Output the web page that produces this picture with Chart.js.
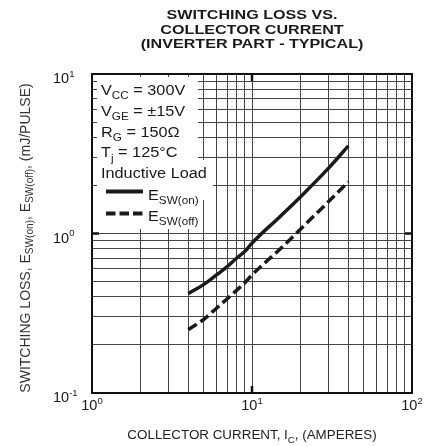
<!DOCTYPE html>
<html>
<head>
<meta charset="utf-8">
<script src="https://cdn.jsdelivr.net/npm/chart.js@4.4.0/dist/chart.umd.min.js"></script>
<style>
  html, body { margin: 0; padding: 0; background: #fff; }
  #wrap { width: 438px; height: 446px; }
</style>
</head>
<body>
<div id="wrap"><canvas id="chart" width="438" height="446"></canvas></div>
<script>
// Collector current (A) and switching energy per pulse (mJ)
const collectorCurrent = [4, 5, 6, 7, 8, 9, 10, 15, 20, 30, 40];
const eswOn  = [0.42, 0.48, 0.55, 0.62, 0.70, 0.77, 0.87, 1.28, 1.69, 2.56, 3.54];
const eswOff = [0.25, 0.29, 0.34, 0.39, 0.44, 0.49, 0.55, 0.80, 1.06, 1.58, 2.11];

// Log grid positions
const xGridValues = [1, 2, 3, 4, 5, 6, 7, 8, 9, 10, 20, 30, 40, 50, 60, 70, 80, 90, 100];
const yGridValues = [0.1, 0.2, 0.3, 0.4, 0.5, 0.6, 0.7, 0.8, 0.9,
                     1, 2, 3, 4, 5, 6, 7, 8, 9, 10];

// Decade tick labels: base 10 with exponent
const xDecades = [1, 10, 100];
const xDecadeExponents = ['0', '1', '2'];
const yDecades = [0.1, 1, 10];
const yDecadeExponents = ['-1', '0', '1'];

// Test-condition block (main text, subscript, trailing text)
const conditionLines = [
  ['V', 'CC', ' = 300V'],
  ['V', 'GE', ' = \u00B115V'],
  ['R', 'G', ' = 150\u03A9'],
  ['T', 'j', ' = 125\u00B0C'],
  ['Inductive Load', '', '']
];
const seriesNames = [['E', 'SW(on)'], ['E', 'SW(off)']];

const titleLines = ['SWITCHING LOSS VS.', 'COLLECTOR CURRENT', '(INVERTER PART - TYPICAL)'];

const FONT = '"Liberation Sans", Arial, Helvetica, sans-serif';
const INK = '#1a1a1a';

// Draw a run of text pieces; mode 0 = normal, 1 = subscript, 2 = superscript
function drawRich(ctx, parts, x, y, size, o) {
  o = o || {};
  const stretch = o.stretch || 1;
  const weight = o.bold ? 'bold ' : '';
  const pieces = parts.filter(p => p[0] !== '').map(p => {
    const mode = p[1] || 0;
    const fs = mode === 0 ? size : size * (mode === 1 ? 0.72 : 0.66);
    const dy = mode === 0 ? 0 : (mode === 1 ? size * 0.28 : -size * 0.42);
    ctx.font = weight + fs + 'px ' + FONT;
    return { t: p[0], fs, dy, w: ctx.measureText(p[0]).width * stretch };
  });
  const total = pieces.reduce((a, p) => a + p.w, 0);
  let cx = x;
  if (o.align === 'center') cx = x - total / 2;
  else if (o.align === 'right') cx = x - total;
  ctx.save();
  ctx.fillStyle = o.color || INK;
  ctx.textBaseline = 'alphabetic';
  ctx.textAlign = 'left';
  for (const p of pieces) {
    ctx.font = weight + p.fs + 'px ' + FONT;
    ctx.save();
    ctx.translate(cx, y + p.dy);
    ctx.scale(stretch, 1);
    ctx.fillText(p.t, 0, 0);
    ctx.restore();
    cx += p.w;
  }
  ctx.restore();
  return total;
}

const decorations = {
  id: 'decorations',
  beforeDatasetsDraw(chart) {
    // white backing behind the condition block
    const ctx = chart.ctx;
    ctx.save();
    ctx.fillStyle = '#fff';
    ctx.fillRect(97, 77, 101, 152);
    ctx.fillRect(97, 160, 116, 40);
    ctx.restore();
  },
  afterDraw(chart) {
    const ctx = chart.ctx;
    const xs = chart.scales.x, ys = chart.scales.y;
    const a = chart.chartArea;

    // plot frame
    ctx.save();
    ctx.strokeStyle = '#111';
    ctx.lineWidth = 2;
    ctx.strokeRect(a.left, a.top, a.right - a.left, a.bottom - a.top);

    // heavier marks at the mid decade on each edge
    ctx.lineWidth = 2.5;
    ctx.beginPath();
    const xm = xs.getPixelForValue(10), ym = ys.getPixelForValue(1);
    ctx.moveTo(xm, a.top); ctx.lineTo(xm, a.top + 7);
    ctx.moveTo(xm, a.bottom); ctx.lineTo(xm, a.bottom - 7);
    ctx.moveTo(a.left, ym); ctx.lineTo(a.left + 7, ym);
    ctx.moveTo(a.right, ym); ctx.lineTo(a.right - 7, ym);
    ctx.stroke();
    ctx.restore();

    // title
    const tb = [19, 33.5, 48];
    titleLines.forEach((t, i) => {
      drawRich(ctx, [[t, 0]], (a.left + a.right) / 2, tb[i], 13, { bold: true, stretch: 1.24, align: 'center' });
    });

    // x decade labels
    xDecades.forEach((v, i) => {
      const px = xs.getPixelForValue(v);
      drawRich(ctx, [['10', 0], [xDecadeExponents[i], 2]], px, a.bottom + 17, 14.5, { align: 'center' });
    });
    // y decade labels
    yDecades.forEach((v, i) => {
      const py = ys.getPixelForValue(v);
      drawRich(ctx, [['10', 0], [yDecadeExponents[i], 2]], 53, py + 9, 14.5, {});
    });

    // axis titles
    drawRich(ctx, [['COLLECTOR CURRENT, I', 0], ['C', 1], [', (AMPERES)', 0]],
      (a.left + a.right) / 2, 439, 13.4, { align: 'center', color: '#222' });

    ctx.save();
    ctx.translate(29.5, 238);
    ctx.rotate(-Math.PI / 2);
    drawRich(ctx, [['SWITCHING LOSS, E', 0], ['SW(on)', 1], [', E', 0], ['SW(off)', 1], [', (mJ/PULSE)', 0]],
      0, 0, 14, { align: 'center', color: '#333' });
    ctx.restore();

    // condition block
    const rowBase = [95, 115.5, 136.5, 157.3, 178];
    conditionLines.forEach((c, i) => {
      drawRich(ctx, [[c[0], 0], [c[1], 1], [c[2], 0]], 101, rowBase[i], 15.5, { stretch: 1.05 });
    });

    // series key
    const keyRows = [199.5, 220.7];
    const keyLineY = [191.5, 213.5];
    ctx.save();
    ctx.strokeStyle = INK;
    ctx.lineWidth = 4;
    ctx.lineCap = 'butt';
    keyLineY.forEach((y, i) => {
      ctx.setLineDash(i === 0 ? [] : [9.5, 4]);
      ctx.beginPath();
      ctx.moveTo(106, y);
      ctx.lineTo(143, y);
      ctx.stroke();
    });
    ctx.restore();
    seriesNames.forEach((s, i) => {
      drawRich(ctx, [[s[0], 0], [s[1], 1]], 148, keyRows[i], 15.5, { stretch: 1.05 });
    });
  }
};

new Chart(document.getElementById('chart'), {
  type: 'line',
  data: {
    datasets: [
      {
        label: 'ESW(on)',
        data: collectorCurrent.map((x, i) => ({ x, y: eswOn[i] })),
        borderColor: INK,
        borderWidth: 3.5,
        pointRadius: 0,
        fill: false
      },
      {
        label: 'ESW(off)',
        data: collectorCurrent.map((x, i) => ({ x, y: eswOff[i] })),
        borderColor: INK,
        borderWidth: 3.5,
        borderDash: [10, 4.5],
        pointRadius: 0,
        fill: false
      }
    ]
  },
  options: {
    responsive: false,
    animation: false,
    events: [],
    layout: { padding: { left: 92, right: 26, top: 74, bottom: 53 } },
    elements: { line: { cubicInterpolationMode: 'monotone' } },
    plugins: {
      legend: { display: false },
      title: { display: false },
      tooltip: { enabled: false }
    },
    scales: {
      x: {
        type: 'logarithmic',
        min: 1,
        max: 100,
        afterBuildTicks: s => { s.ticks = xGridValues.map(v => ({ value: v })); },
        ticks: { display: false },
        grid: { color: '#444', lineWidth: 1, drawTicks: false },
        border: { display: false }
      },
      y: {
        type: 'logarithmic',
        min: 0.1,
        max: 10,
        afterBuildTicks: s => { s.ticks = yGridValues.map(v => ({ value: v })); },
        ticks: { display: false },
        grid: { color: '#444', lineWidth: 1, drawTicks: false },
        border: { display: false }
      }
    }
  },
  plugins: [decorations]
});
</script>
</body>
</html>
